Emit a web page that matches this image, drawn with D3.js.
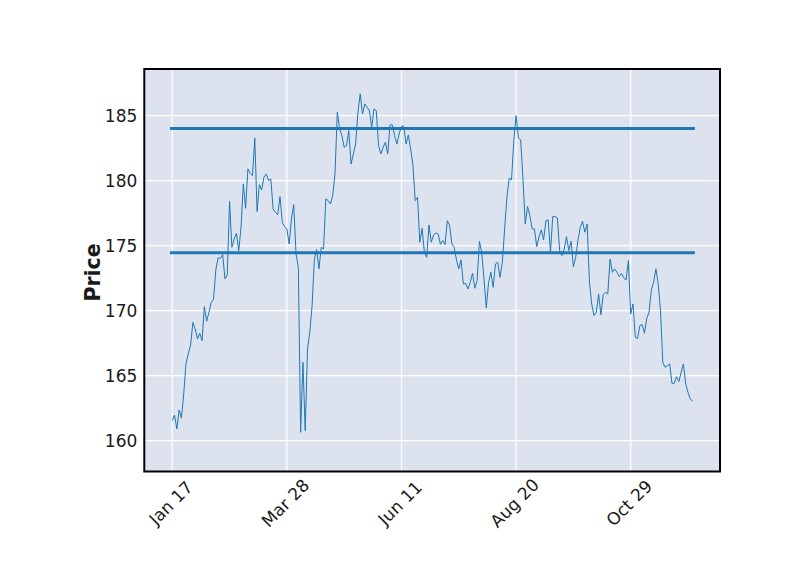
<!DOCTYPE html>
<html>
<head>
<meta charset="utf-8">
<script src="https://cdn.jsdelivr.net/npm/d3@7"></script>
<style>
  html, body { margin: 0; padding: 0; background: #ffffff; }
  svg { display: block; }
</style>
</head>
<body>
<div id="chart"></div>
<script>
// ---- data ----
const closePrices = [
  161.54,161.97,160.90,162.36,161.74,163.59,165.95,166.67,167.36,169.10,
  168.59,167.82,168.26,167.69,170.31,169.18,169.87,170.64,170.85,173.13,
  174.05,174.03,174.31,172.44,172.74,178.41,174.87,175.50,175.95,174.60,
  176.41,179.74,177.87,180.90,180.56,180.38,183.28,177.62,179.69,179.28,
  180.26,180.51,180.00,180.13,177.82,177.56,177.38,178.77,176.79,176.46,
  176.28,175.13,177.05,178.15,174.36,173.33,160.64,166.03,160.77,167.05,
  168.33,170.38,173.97,174.69,173.20,174.87,174.74,178.59,178.46,178.20,
  178.85,180.51,185.26,183.97,183.46,182.56,182.69,183.85,181.28,182.05,
  182.82,185.26,186.67,185.13,185.90,185.64,185.38,184.10,185.51,185.38,
  182.69,182.05,182.56,182.95,182.05,184.28,184.28,183.46,182.82,183.59,
  184.18,184.18,182.82,183.51,182.44,181.15,178.46,178.72,175.26,176.33,
  174.49,174.10,176.59,175.26,175.82,175.97,175.90,175.10,175.38,175.08,
  176.92,176.54,175.13,174.87,173.90,173.21,173.90,172.05,172.10,171.67,
  172.18,172.87,171.72,172.31,175.33,174.49,172.44,170.21,172.18,172.95,
  171.79,173.59,173.72,172.56,173.72,176.28,178.72,180.20,180.05,183.08,
  185.00,183.28,183.13,180.13,176.67,178.00,177.31,176.28,176.28,174.92,
  175.69,176.21,175.44,176.92,176.97,174.49,177.23,177.23,177.13,174.62,
  174.23,174.74,175.69,174.62,175.33,173.38,174.10,175.40,176.41,176.87,
  176.03,176.67,172.20,170.50,169.62,169.87,171.28,169.69,171.23,171.41,
  171.28,173.97,172.95,173.21,172.95,172.62,172.87,172.51,172.36,173.85,
  169.74,170.51,167.95,167.85,168.85,168.92,168.26,169.38,169.87,171.59,
  172.18,173.21,172.05,170.00,166.03,165.64,165.77,165.90,164.41,164.41,
  164.92,164.54,165.26,165.90,164.36,163.72,163.21,163.03
];
const xTickIndex  = [0, 50, 100, 150, 200];
const xTickLabels = ["Jan 17", "Mar 28", "Jun 11", "Aug 20", "Oct 29"];
const yTickValues = [160, 165, 170, 175, 180, 185];
const hLineLevels = [184.0, 174.45];
const yLabel = "Price";

// ---- layout ----
const W = 800, H = 575;
const plotL = 144.3, plotR = 720, plotT = 69, plotB = 471.5;
const font = "'DejaVu Sans', sans-serif";
const textColor = "#1a1a1a";
const lineColor = "#1f77b4";

const svg = d3.select("#chart").append("svg")
  .attr("width", W).attr("height", H)
  .style("background", "#ffffff");

const x = d3.scaleLinear().domain([-12.2, 238.96]).range([plotL, plotR]);
const y = d3.scaleLinear().domain([157.63, 188.58]).range([plotB, plotT]);

// plot background
svg.append("rect")
  .attr("x", plotL).attr("y", plotT)
  .attr("width", plotR - plotL).attr("height", plotB - plotT)
  .attr("fill", "#DCE3EF");

// grid
const grid = svg.append("g");
grid.selectAll("line.gy").data(yTickValues).enter().append("line")
  .attr("class", "gy")
  .attr("x1", plotL).attr("x2", plotR)
  .attr("y1", d => y(d)).attr("y2", d => y(d))
  .attr("stroke", "#ffffff").attr("stroke-width", 1.2);
grid.selectAll("line.gx").data(xTickIndex).enter().append("line")
  .attr("class", "gx")
  .attr("y1", plotT).attr("y2", plotB)
  .attr("x1", d => x(d)).attr("x2", d => x(d))
  .attr("stroke", "#ffffff").attr("stroke-width", 1.2);

// horizontal level lines
svg.append("g").selectAll("line").data(hLineLevels).enter().append("line")
  .attr("x1", x(-1)).attr("x2", x(closePrices.length))
  .attr("y1", d => y(d)).attr("y2", d => y(d))
  .attr("stroke", lineColor).attr("stroke-width", 3);

// price line
const line = d3.line().x((d, i) => x(i)).y(d => y(d));
svg.append("path")
  .datum(closePrices)
  .attr("d", line)
  .attr("fill", "none")
  .attr("stroke", lineColor)
  .attr("stroke-width", 1)
  .attr("stroke-linejoin", "round");

// x axis
const xAxis = d3.axisBottom(x)
  .tickValues(xTickIndex)
  .tickFormat((d, i) => xTickLabels[i])
  .tickSize(0).tickPadding(0);
const gx = svg.append("g").attr("transform", `translate(0,${plotB})`).call(xAxis);
gx.select(".domain").remove();
gx.selectAll("text")
  .attr("y", null).attr("dy", null)
  .attr("text-anchor", "middle")
  .attr("dominant-baseline", "central")
  .attr("transform", "translate(-2,31.5) rotate(-45)")
  .attr("fill", textColor)
  .style("font-family", font)
  .style("font-size", "17px");

// y axis
const yAxis = d3.axisLeft(y).tickValues(yTickValues).tickSize(0).tickPadding(7);
const gy = svg.append("g").attr("transform", `translate(${plotL},0)`).call(yAxis);
gy.select(".domain").remove();
gy.selectAll("text")
  .attr("fill", textColor)
  .style("font-family", font)
  .style("font-size", "17px");

// y label
svg.append("text")
  .attr("transform", `translate(100,272.5) rotate(-90)`)
  .attr("text-anchor", "middle")
  .attr("fill", textColor)
  .style("font-family", font)
  .style("font-weight", "bold")
  .style("font-size", "20.5px")
  .text(yLabel);

// spines
svg.append("rect")
  .attr("x", plotL).attr("y", plotT)
  .attr("width", plotR - plotL).attr("height", plotB - plotT)
  .attr("fill", "none").attr("stroke", "#000000").attr("stroke-width", 2);
</script>
</body>
</html>
